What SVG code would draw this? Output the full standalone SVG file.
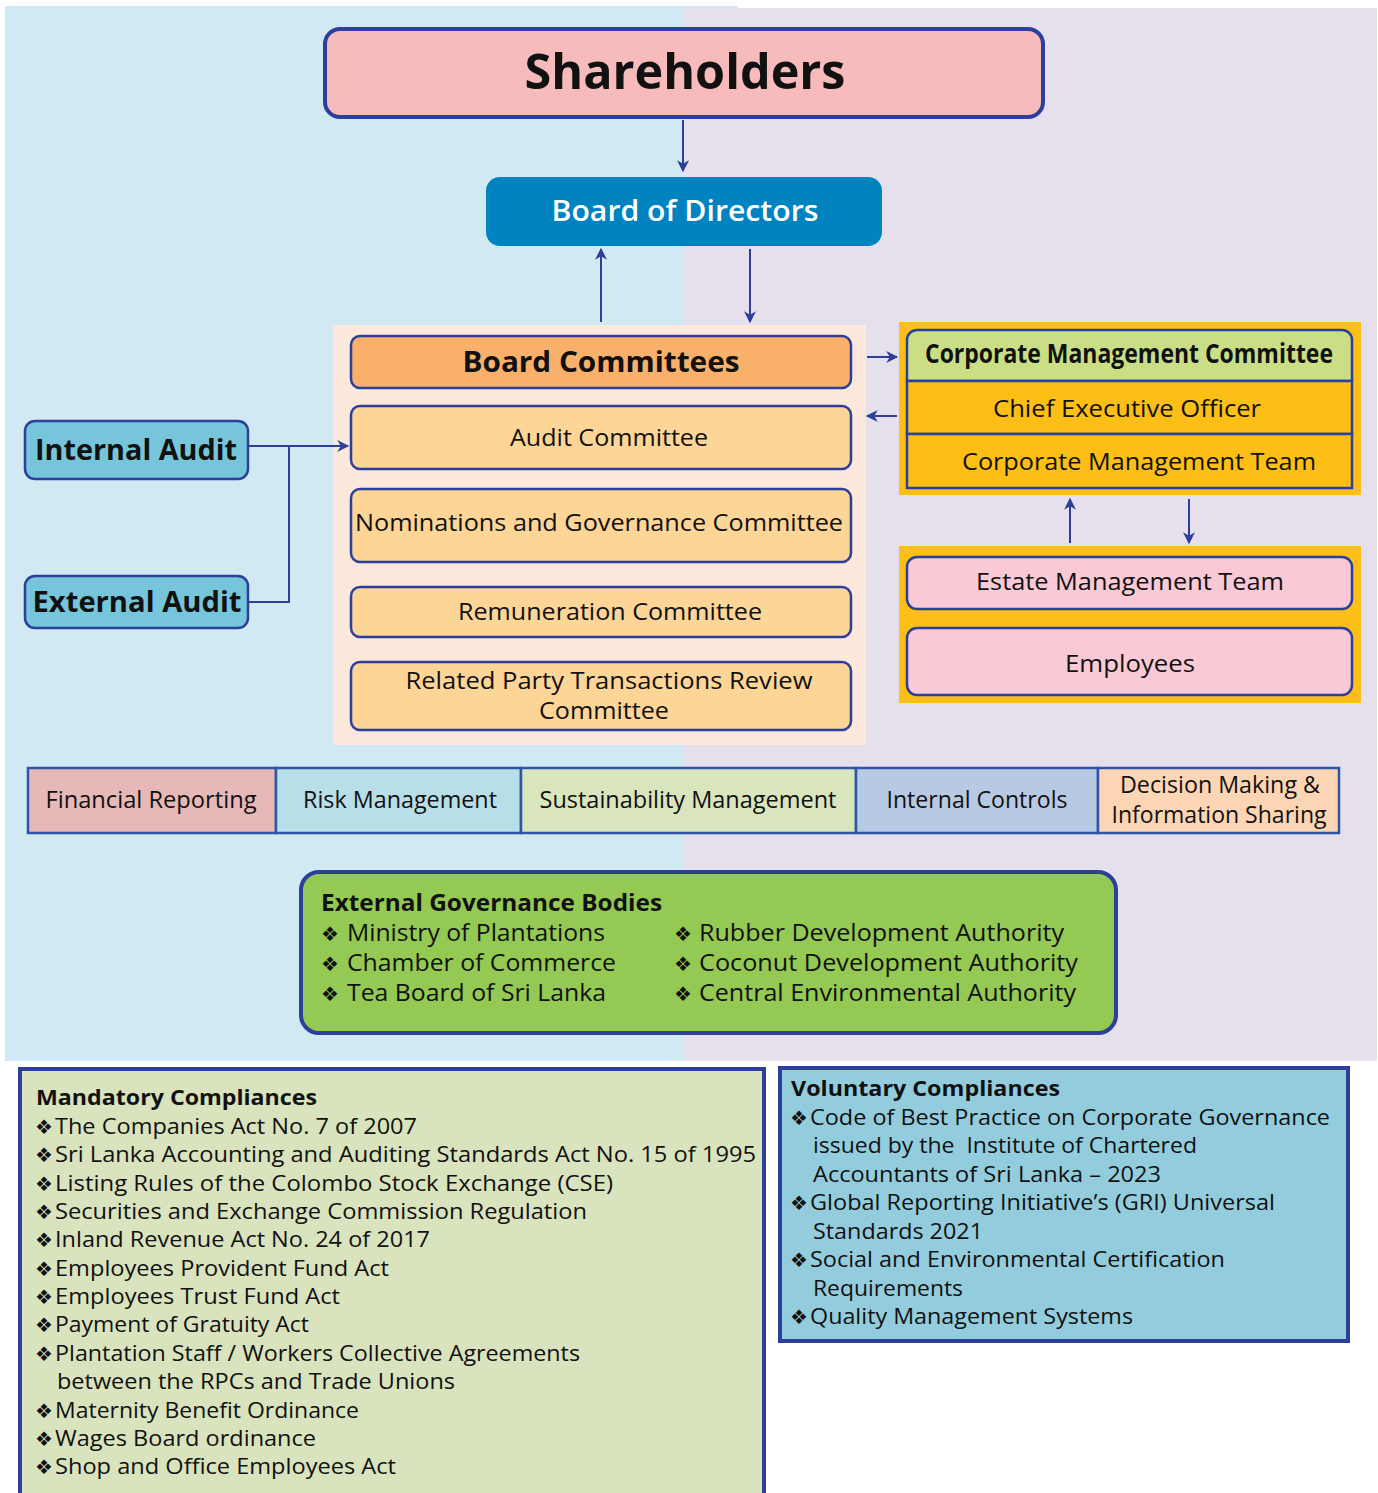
<svg xmlns="http://www.w3.org/2000/svg" width="1378" height="1493" viewBox="0 0 1378 1493">
  <defs>
    <marker id="arr" viewBox="0 0 10 10" refX="9" refY="5" markerWidth="6.5" markerHeight="6" orient="auto" markerUnits="strokeWidth">
      <path d="M0,0 L10,5 L0,10 L3,5 Z" fill="#2b3f9b"/>
    </marker>
  </defs>
  <style>
    .edge { stroke:#2b3f9b; stroke-width:2; fill:none; }
    .box { stroke:#2b3f9b; stroke-width:2.5; }
    .g { font-family:"Open Sans","Liberation Sans",sans-serif; fill:#111; }
    .b { font-weight:700; }
    .m { text-anchor:middle; }
    .bul { font-family:"DejaVu Sans",sans-serif; font-size:20px; fill:#111; }
  </style>

  <!-- background panels -->
  <rect x="0" y="0" width="1378" height="1493" fill="#ffffff"/>
  <rect x="5" y="6" width="733" height="1055" fill="#d1e9f2"/>
  <rect x="683" y="8" width="694" height="1053" fill="#e6dfec"/>

  <!-- Shareholders -->
  <g id="shareholders">
    <rect x="325" y="29" width="718" height="88" rx="15" fill="#f8bbbb" stroke="#2b3f9b" stroke-width="4"/>
    <text class="g b m" x="685" y="89" font-size="48" textLength="321" lengthAdjust="spacingAndGlyphs">Shareholders</text>
  </g>

  <!-- Board of Directors -->
  <g id="board-of-directors">
    <rect x="486" y="177" width="396" height="69" rx="14" fill="#0083bf"/>
    <text class="g m" x="685" y="221" font-size="29" font-weight="600" style="fill:#fff" textLength="267" lengthAdjust="spacingAndGlyphs">Board of Directors</text>
  </g>

  <!-- Board committees panel -->
  <g id="board-committees">
    <rect x="333" y="325" width="533" height="420" fill="#fce9dc"/>
    <rect class="box" x="351" y="336" width="500" height="52" rx="9" fill="#f9b06b"/>
    <text class="g b m" x="601" y="372" font-size="28" textLength="277" lengthAdjust="spacingAndGlyphs">Board Committees</text>
  </g>
  <g id="audit-committee">
    <rect class="box" x="351" y="406" width="500" height="63" rx="9" fill="#fdd597"/>
    <text class="g m" x="609" y="446" font-size="23" textLength="198" lengthAdjust="spacingAndGlyphs">Audit Committee</text>
  </g>
  <g id="nominations-committee">
    <rect class="box" x="351" y="489" width="500" height="73" rx="9" fill="#fdd597"/>
    <text class="g m" x="599" y="531" font-size="23" textLength="488" lengthAdjust="spacingAndGlyphs">Nominations and Governance Committee</text>
  </g>
  <g id="remuneration-committee">
    <rect class="box" x="351" y="587" width="500" height="50" rx="9" fill="#fdd597"/>
    <text class="g m" x="610" y="620" font-size="23" textLength="304" lengthAdjust="spacingAndGlyphs">Remuneration Committee</text>
  </g>
  <g id="related-party-committee">
    <rect class="box" x="351" y="662" width="500" height="68" rx="9" fill="#fdd597"/>
    <text class="g m" x="609" y="689" font-size="23" textLength="407" lengthAdjust="spacingAndGlyphs">Related Party Transactions Review</text>
    <text class="g m" x="604" y="719" font-size="23" textLength="130" lengthAdjust="spacingAndGlyphs">Committee</text>
  </g>

  <!-- Audit functions -->
  <g id="internal-audit">
    <rect class="box" x="25" y="421" width="223" height="58" rx="10" fill="#76c5da"/>
    <text class="g b m" x="136" y="460" font-size="29" textLength="202" lengthAdjust="spacingAndGlyphs">Internal Audit</text>
  </g>
  <g id="external-audit">
    <rect class="box" x="25" y="576" width="223" height="52" rx="10" fill="#76c5da"/>
    <text class="g b m" x="137" y="612" font-size="29" textLength="209" lengthAdjust="spacingAndGlyphs">External Audit</text>
  </g>

  <!-- Corporate management -->
  <g id="corporate-management">
    <rect x="899" y="322" width="462" height="173" fill="#fdbf16"/>
    <path class="box" d="M907,381 V340 a10,10 0 0 1 10,-10 H1342 a10,10 0 0 1 10,10 V381 Z" fill="#c9de85"/>
    <rect class="box" x="907" y="381" width="445" height="53" fill="#fdbf16"/>
    <rect class="box" x="907" y="434" width="445" height="54" fill="#fdbf16"/>
    <text class="g b m" x="1129" y="363" font-size="26" textLength="408" lengthAdjust="spacingAndGlyphs">Corporate Management Committee</text>
    <text class="g m" x="1127" y="417" font-size="23" textLength="268" lengthAdjust="spacingAndGlyphs">Chief Executive Officer</text>
    <text class="g m" x="1139" y="470" font-size="23" textLength="354" lengthAdjust="spacingAndGlyphs">Corporate Management Team</text>
  </g>

  <!-- Estate level -->
  <g id="estate-level">
    <rect x="899" y="546" width="462" height="157" fill="#fdbf16"/>
  </g>
  <g id="estate-management-team">
    <rect class="box" x="907" y="557" width="445" height="52" rx="10" fill="#f9c9d6"/>
    <text class="g m" x="1130" y="590" font-size="23" textLength="308" lengthAdjust="spacingAndGlyphs">Estate Management Team</text>
  </g>
  <g id="employees">
    <rect class="box" x="907" y="628" width="445" height="67" rx="10" fill="#f9c9d6"/>
    <text class="g m" x="1130" y="672" font-size="23" textLength="130" lengthAdjust="spacingAndGlyphs">Employees</text>
  </g>

  <!-- Governance pillars -->
  <g id="pillars">
    <rect x="28" y="768" width="248" height="65" fill="#e6b8b8" stroke="#2e55a6" stroke-width="2.5"/>
    <rect x="276" y="768" width="245" height="65" fill="#b8dfe8" stroke="#2e55a6" stroke-width="2.5"/>
    <rect x="521" y="768" width="335" height="65" fill="#d9e5bd" stroke="#2e55a6" stroke-width="2.5"/>
    <rect x="856" y="768" width="242" height="65" fill="#b8c9e3" stroke="#2e55a6" stroke-width="2.5"/>
    <rect x="1098" y="768" width="241" height="65" fill="#fcd5b4" stroke="#2e55a6" stroke-width="2.5"/>
    <text class="g m" x="151" y="808" font-size="23" textLength="211" lengthAdjust="spacingAndGlyphs">Financial Reporting</text>
    <text class="g m" x="400" y="808" font-size="23" textLength="194" lengthAdjust="spacingAndGlyphs">Risk Management</text>
    <text class="g m" x="688" y="808" font-size="23" textLength="297" lengthAdjust="spacingAndGlyphs">Sustainability Management</text>
    <text class="g m" x="977" y="808" font-size="23" textLength="181" lengthAdjust="spacingAndGlyphs">Internal Controls</text>
    <text class="g m" x="1220" y="793" font-size="23" textLength="200" lengthAdjust="spacingAndGlyphs">Decision Making &amp;</text>
    <text class="g m" x="1219" y="823" font-size="23" textLength="215" lengthAdjust="spacingAndGlyphs">Information Sharing</text>
  </g>

  <!-- External governance bodies -->
  <g id="external-governance">
    <rect x="301" y="872" width="815" height="161" rx="18" fill="#94c954" stroke="#2b3f9b" stroke-width="4"/>
    <text class="g b" x="321" y="911" font-size="23" textLength="341" lengthAdjust="spacingAndGlyphs">External Governance Bodies</text>
    <g class="bul">
      <text x="321" y="941">❖</text>
      <text x="321" y="971">❖</text>
      <text x="321" y="1001">❖</text>
      <text x="674" y="941">❖</text>
      <text x="674" y="971">❖</text>
      <text x="674" y="1001">❖</text>
    </g>
    <text class="g" x="347" y="941" font-size="23" textLength="258" lengthAdjust="spacingAndGlyphs">Ministry of Plantations</text>
    <text class="g" x="347" y="971" font-size="23" textLength="269" lengthAdjust="spacingAndGlyphs">Chamber of Commerce</text>
    <text class="g" x="347" y="1001" font-size="23" textLength="259" lengthAdjust="spacingAndGlyphs">Tea Board of Sri Lanka</text>
    <text class="g" x="699" y="941" font-size="23" textLength="365" lengthAdjust="spacingAndGlyphs">Rubber Development Authority</text>
    <text class="g" x="699" y="971" font-size="23" textLength="379" lengthAdjust="spacingAndGlyphs">Coconut Development Authority</text>
    <text class="g" x="699" y="1001" font-size="23" textLength="377" lengthAdjust="spacingAndGlyphs">Central Environmental Authority</text>
  </g>

  <!-- Mandatory compliances -->
  <g id="mandatory-compliances">
    <rect x="20" y="1069" width="744" height="440" fill="#d9e3bd" stroke="#2b3f9b" stroke-width="4"/>
    <text class="g b" x="36" y="1105" font-size="21" textLength="281" lengthAdjust="spacingAndGlyphs">Mandatory Compliances</text>
    <g class="bul">
      <text x="35" y="1134">❖</text>
      <text x="35" y="1162">❖</text>
      <text x="35" y="1191">❖</text>
      <text x="35" y="1219">❖</text>
      <text x="35" y="1247">❖</text>
      <text x="35" y="1276">❖</text>
      <text x="35" y="1304">❖</text>
      <text x="35" y="1332">❖</text>
      <text x="35" y="1361">❖</text>
      <text x="35" y="1418">❖</text>
      <text x="35" y="1446">❖</text>
      <text x="35" y="1474">❖</text>
    </g>
    <text class="g" x="55" y="1134" font-size="22" textLength="362" lengthAdjust="spacingAndGlyphs">The Companies Act No. 7 of 2007</text>
    <text class="g" x="55" y="1162" font-size="22" textLength="701" lengthAdjust="spacingAndGlyphs">Sri Lanka Accounting and Auditing Standards Act No. 15 of 1995</text>
    <text class="g" x="55" y="1191" font-size="22" textLength="558" lengthAdjust="spacingAndGlyphs">Listing Rules of the Colombo Stock Exchange (CSE)</text>
    <text class="g" x="55" y="1219" font-size="22" textLength="532" lengthAdjust="spacingAndGlyphs">Securities and Exchange Commission Regulation</text>
    <text class="g" x="55" y="1247" font-size="22" textLength="375" lengthAdjust="spacingAndGlyphs">Inland Revenue Act No. 24 of 2017</text>
    <text class="g" x="55" y="1276" font-size="22" textLength="334" lengthAdjust="spacingAndGlyphs">Employees Provident Fund Act</text>
    <text class="g" x="55" y="1304" font-size="22" textLength="285" lengthAdjust="spacingAndGlyphs">Employees Trust Fund Act</text>
    <text class="g" x="55" y="1332" font-size="22" textLength="254" lengthAdjust="spacingAndGlyphs">Payment of Gratuity Act</text>
    <text class="g" x="55" y="1361" font-size="22" textLength="525" lengthAdjust="spacingAndGlyphs">Plantation Staff / Workers Collective Agreements</text>
    <text class="g" x="57" y="1389" font-size="22" textLength="398" lengthAdjust="spacingAndGlyphs">between the RPCs and Trade Unions</text>
    <text class="g" x="55" y="1418" font-size="22" textLength="304" lengthAdjust="spacingAndGlyphs">Maternity Benefit Ordinance</text>
    <text class="g" x="55" y="1446" font-size="22" textLength="261" lengthAdjust="spacingAndGlyphs">Wages Board ordinance</text>
    <text class="g" x="55" y="1474" font-size="22" textLength="341" lengthAdjust="spacingAndGlyphs">Shop and Office Employees Act</text>
  </g>

  <!-- Voluntary compliances -->
  <g id="voluntary-compliances">
    <rect x="780" y="1068" width="568" height="273" fill="#93cddd" stroke="#2b3f9b" stroke-width="4"/>
    <text class="g b" x="791" y="1096" font-size="21" textLength="269" lengthAdjust="spacingAndGlyphs">Voluntary Compliances</text>
    <g class="bul">
      <text x="790" y="1125">❖</text>
      <text x="790" y="1210">❖</text>
      <text x="790" y="1267">❖</text>
      <text x="790" y="1324">❖</text>
    </g>
    <text class="g" x="810" y="1125" font-size="22" textLength="520" lengthAdjust="spacingAndGlyphs">Code of Best Practice on Corporate Governance</text>
    <text class="g" x="813" y="1153" font-size="22" textLength="384" lengthAdjust="spacingAndGlyphs" xml:space="preserve">issued by the  Institute of Chartered</text>
    <text class="g" x="813" y="1182" font-size="22" textLength="348" lengthAdjust="spacingAndGlyphs">Accountants of Sri Lanka – 2023</text>
    <text class="g" x="810" y="1210" font-size="22" textLength="465" lengthAdjust="spacingAndGlyphs">Global Reporting Initiative’s (GRI) Universal</text>
    <text class="g" x="813" y="1239" font-size="22" textLength="170" lengthAdjust="spacingAndGlyphs">Standards 2021</text>
    <text class="g" x="810" y="1267" font-size="22" textLength="415" lengthAdjust="spacingAndGlyphs">Social and Environmental Certification</text>
    <text class="g" x="813" y="1296" font-size="22" textLength="150" lengthAdjust="spacingAndGlyphs">Requirements</text>
    <text class="g" x="810" y="1324" font-size="22" textLength="323" lengthAdjust="spacingAndGlyphs">Quality Management Systems</text>
  </g>

  <!-- connectors -->
  <g id="connectors">
    <line class="edge" x1="683" y1="120" x2="683" y2="171" marker-end="url(#arr)"/>
    <line class="edge" x1="601" y1="322" x2="601" y2="249" marker-end="url(#arr)"/>
    <line class="edge" x1="750" y1="249" x2="750" y2="322" marker-end="url(#arr)"/>
    <line class="edge" x1="248" y1="446" x2="348" y2="446" marker-end="url(#arr)"/>
    <polyline class="edge" points="248,602 289,602 289,446"/>
    <line class="edge" x1="867" y1="357" x2="897" y2="357" marker-end="url(#arr)"/>
    <line class="edge" x1="897" y1="416" x2="867" y2="416" marker-end="url(#arr)"/>
    <line class="edge" x1="1070" y1="543" x2="1070" y2="499" marker-end="url(#arr)"/>
    <line class="edge" x1="1189" y1="499" x2="1189" y2="543" marker-end="url(#arr)"/>
  </g>
</svg>
